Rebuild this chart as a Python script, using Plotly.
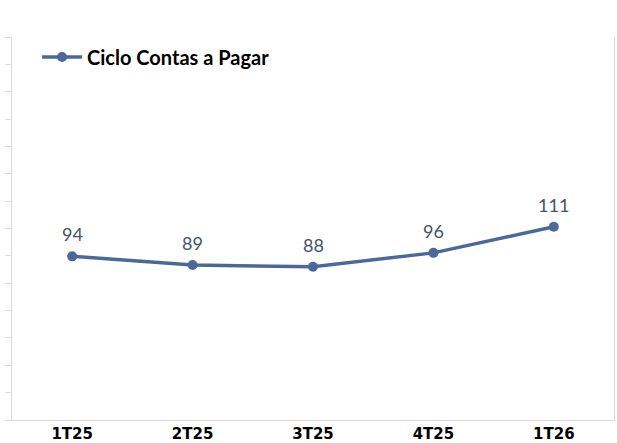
import plotly.graph_objects as go

categories = ["1T25", "2T25", "3T25", "4T25", "1T26"]
values = [94, 89, 88, 96, 111]
labels = ["94", "89", "88", "96", "111"]
series_name = "Ciclo Contas a Pagar"

y_max = 220
n_ticks = 14
tick_vals = [y_max * i / n_ticks for i in range(n_ticks + 1)]

line_color = "#4A6899"
grid_color = "#D9D9D9"

fig = go.Figure()
fig.add_trace(go.Scatter(
    x=categories, y=values, name=series_name,
    mode="lines+markers",
    line=dict(color=line_color, width=3.5),
    marker=dict(color=line_color, size=10),
    cliponaxis=False,
))

for c, v, t in zip(categories, values, labels):
    fig.add_annotation(x=c, y=v, text=t, showarrow=False, yshift=22,
                       font=dict(family="Lato", size=18, color="#44546A"))

fig.update_layout(
    width=617, height=443,
    margin=dict(l=12, r=3, t=37, b=23, autoexpand=False),
    paper_bgcolor="white", plot_bgcolor="white",
    showlegend=True,
    legend=dict(x=0.0416, y=0.948, xanchor="left", yanchor="middle",
                font=dict(family="Lato", size=20, color="black", weight="bold"),
                bgcolor="rgba(0,0,0,0)", itemwidth=40),
    xaxis=dict(type="category", range=[-0.5, 4.5], showgrid=False,
               showline=True, linecolor=grid_color, linewidth=1,
               ticks="", tickfont=dict(family="DejaVu Sans", size=15, color="black", weight="bold"),
               ticklabelstandoff=0, automargin=False),
    yaxis=dict(range=[0, y_max], showgrid=False, zeroline=False,
               showline=True, linecolor=grid_color, linewidth=1, mirror=True,
               ticks="outside", ticklen=6, tickcolor=grid_color, tickwidth=1,
               tickvals=tick_vals, showticklabels=False, automargin=False),
)

fig.write_html("out.html", config={"displayModeBar": False},
               post_script="document.body.style.margin='0';document.body.style.overflow='hidden';")
